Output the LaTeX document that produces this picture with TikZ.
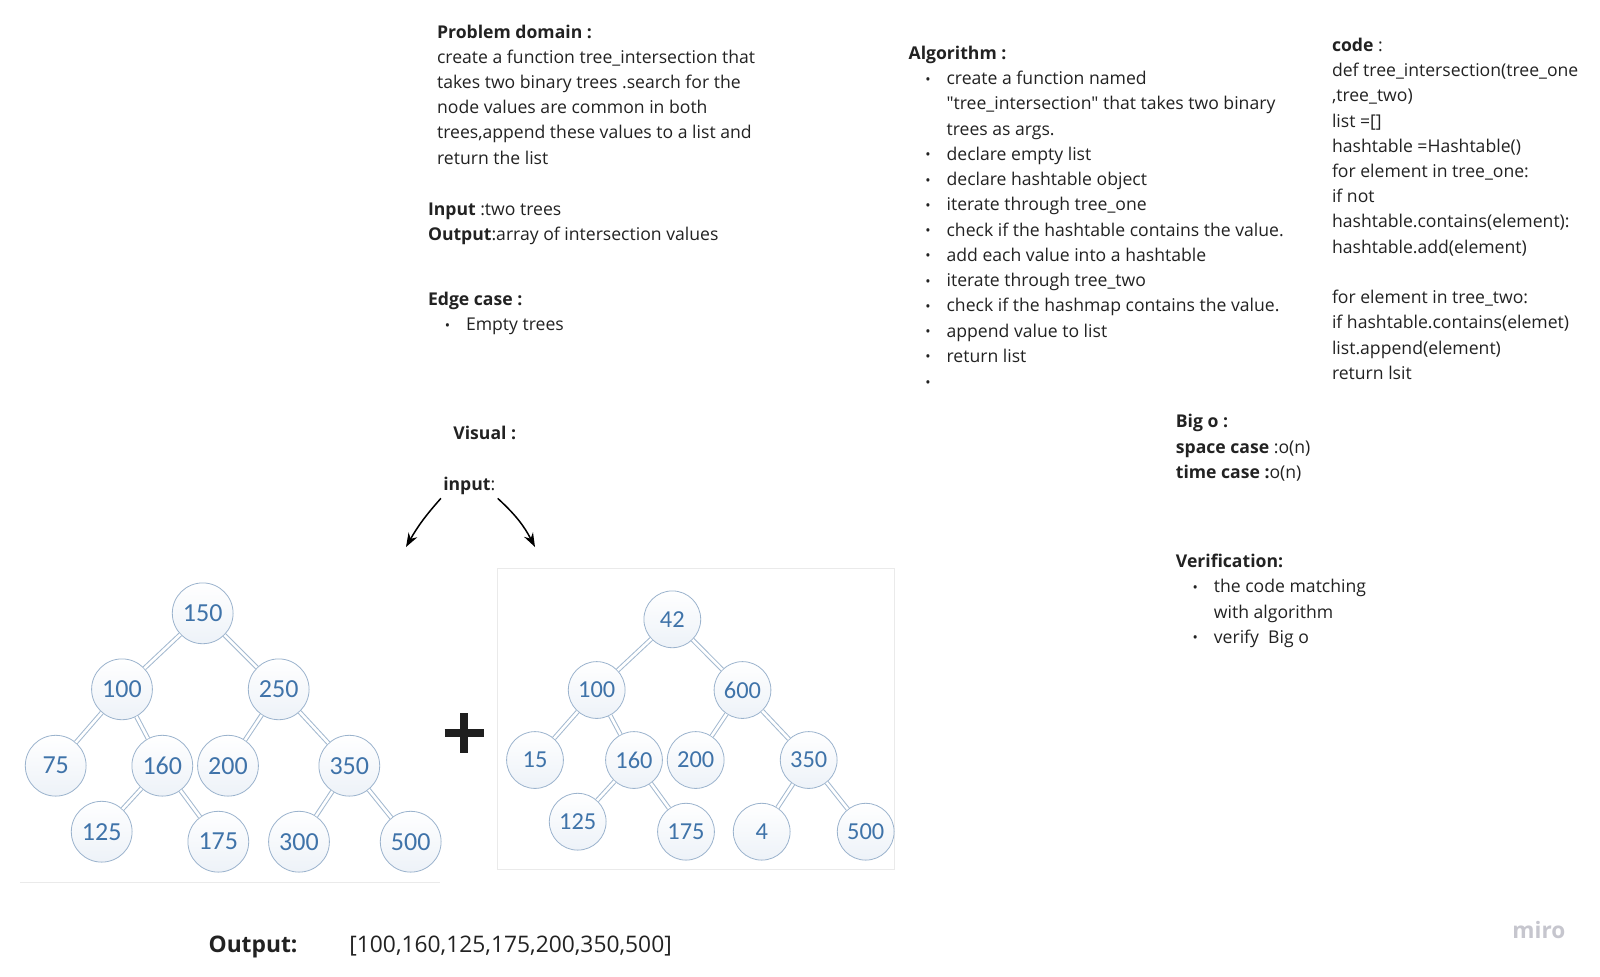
\documentclass[tikz,border=0pt]{standalone}
\usepackage{fontspec}
\setmainfont{Open Sans}[Ligatures=TeXOff]
\newfontfamily\treefont{Carlito}
\usetikzlibrary{arrows.meta}
\definecolor{txtc}{HTML}{222222}
\definecolor{numblue}{HTML}{3F73A9}
\definecolor{circ}{HTML}{9BB3CD}
\definecolor{edgec}{HTML}{A3B9D0}
\definecolor{panelc}{HTML}{EAEAEA}
\definecolor{mirog}{HTML}{C6C6CE}
\definecolor{circbot}{HTML}{EDF2F8}
\newcommand\bul{\makebox[19pt][l]{\hspace{8.4pt}\raisebox{0.3pt}{\scalebox{0.8}{•}}}}
\newcommand\ind{\hspace*{19pt}}
\newcommand\tr{\rule{0pt}{10pt}}
\begin{document}
\begin{tikzpicture}[x=0.5pt,y=-0.5pt,
  txtblock/.style={anchor=north west, inner sep=0pt, align=left, text=txtc,
    font=\fontsize{8.8}{12.62}\selectfont},
  oneline/.style={anchor=base west, inner sep=0pt, text=txtc,
    font=\fontsize{8.8}{12.62}\selectfont},
  tn/.style={circle, draw=circ, line width=0.4pt, inner sep=0pt,
    top color=white, bottom color=circbot, text=numblue},
  tnA/.style={tn, minimum size=30.4pt, font=\treefont\fontsize{13}{13}\selectfont},
  tnB/.style={tn, minimum size=28.4pt, font=\treefont\fontsize{12.2}{12.2}\selectfont},
  ed/.style={draw=edgec, line width=0.5pt, double=white, double distance=1.3pt},
  arr/.style={line width=0.75pt, -{Stealth[length=7pt,width=5pt]}},
  panel/.style={draw=panelc, line width=0.5pt}]
\useasboundingbox (0,0) rectangle (1600,976);
\fill[white] (0,0) rectangle (1600,976);

% ---------- text blocks ----------
\node[txtblock] (pd) at (436.7,17.6) {\tr\textbf{Problem domain :}\\
create a function tree\_intersection that\\
takes two binary trees .search for the\\
node values are common in both\\
trees,append these values to a list and\\
return the list};

\node[txtblock] (io) at (427.6,195.2) {\tr\textbf{Input} :two trees\\
\textbf{Output}:array of intersection values};

\node[txtblock] (ec) at (427.6,285) {\tr\textbf{Edge case :}\\
\bul Empty trees};

\node[txtblock] (alg) at (908.2,39.1) {\tr\textbf{Algorithm :}\\
\bul create a function named\\
\ind "tree\_intersection" that takes two binary\\
\ind trees as args.\\
\bul declare empty list\\
\bul declare hashtable object\\
\bul iterate through tree\_one\\
\bul check if the hashtable contains the value.\\
\bul add each value into a hashtable\\
\bul iterate through tree\_two\\
\bul check if the hashmap contains the value.\\
\bul append value to list\\
\bul return list\\
\bul};

\node[txtblock] (code) at (1331.6,30.9) {\tr\textbf{code} :\\
def tree\_intersection(tree\_one\\
,tree\_two)\\
list =[]\\
hashtable =Hashtable()\\
for element in tree\_one:\\
if not\\
hashtable.contains(element):\\
hashtable.add(element)\\[12.62pt]
for element in tree\_two:\\
if hashtable.contains(elemet)\\
list.append(element)\\
return lsit};

\node[txtblock] (bigo) at (1175.5,407.4) {\tr\textbf{Big o :}\\
\textbf{space case} :o(n)\\
\textbf{time case :}o(n)};

\node[txtblock] (ver) at (1175.5,547.2) {\tr\textbf{Verification:}\\
\bul the code matching\\
\ind with algorithm\\
\bul verify\ \ Big o};

\node[oneline] (vis) at (453,439.7) {\textbf{Visual :}};
\node[oneline] (inp) at (442.9,490.7) {\textbf{input}:};

\node[oneline, font=\fontsize{11.4}{14}\selectfont\bfseries] (outl) at (208.2,952) {Output:};
\node[oneline, font=\fontsize{11.4}{14}\selectfont] (outv) at (349,952) {[100,160,125,175,200,350,500]};

\node[oneline, text=mirog, font=\fontsize{11.3}{12}\selectfont\bfseries] (miro) at (1512,938) {miro};

% ---------- arrows ----------
\coordinate (la) at (406,547);
\coordinate (ra) at (535,547);
\draw[arr] ([shift={(-2,3)}]inp.south west) to[bend right=6] (la);
\draw[arr] ([shift={(2,3)}]inp.south east) to[bend left=10] (ra);

% ---------- panels ----------
\draw[panel] (20,882.7) -- (440,882.7);
\draw[panel] (497.3,568) rectangle (894.3,869);

% ---------- plus ----------
\draw[line width=4pt, black!88] (444.5,733) -- (484,733) (464.3,713.3) -- (464.3,752.7);

% ---------- tree one ----------
\node[tnA] (a150) at (202.7,613.3) {150};
\node[tnA] (a100) at (122,689.3) {100};
\node[tnA] (a250) at (278.7,689.3) {250};
\node[tnA] (a75) at (55.7,765.7) {75};
\node[tnA] (a160) at (162.3,765.7) {160};
\node[tnA] (a200) at (228,765.7) {200};
\node[tnA] (a350) at (349.3,765.7) {350};
\node[tnA] (a125) at (101.7,831.7) {125};
\node[tnA] (a175) at (218.3,841.7) {175};
\node[tnA] (a300) at (299,841.7) {300};
\node[tnA] (a500) at (410.7,841.7) {500};
\draw[ed] (a150) -- (a100);
\draw[ed] (a150) -- (a250);
\draw[ed] (a100) -- (a75);
\draw[ed] (a100) -- (a160);
\draw[ed] (a250) -- (a200);
\draw[ed] (a250) -- (a350);
\draw[ed] (a160) -- (a125);
\draw[ed] (a160) -- (a175);
\draw[ed] (a350) -- (a300);
\draw[ed] (a350) -- (a500);

% ---------- tree two ----------
\node[tnB] (b42) at (672.3,619.3) {42};
\node[tnB] (b100) at (596.7,690) {100};
\node[tnB] (b600) at (742.5,690) {600};
\node[tnB] (b15) at (535,760) {15};
\node[tnB] (b160) at (634,760) {160};
\node[tnB] (b200) at (695.7,760) {200};
\node[tnB] (b350) at (808.7,760) {350};
\node[tnB] (b125) at (577.7,821.7) {125};
\node[tnB] (b175) at (686,831.7) {175};
\node[tnB] (b4) at (761.7,831.7) {4};
\node[tnB] (b500) at (865.7,831.7) {500};
\draw[ed] (b42) -- (b100);
\draw[ed] (b42) -- (b600);
\draw[ed] (b100) -- (b15);
\draw[ed] (b100) -- (b160);
\draw[ed] (b600) -- (b200);
\draw[ed] (b600) -- (b350);
\draw[ed] (b160) -- (b125);
\draw[ed] (b160) -- (b175);
\draw[ed] (b350) -- (b4);
\draw[ed] (b350) -- (b500);
\end{tikzpicture}
\end{document}
